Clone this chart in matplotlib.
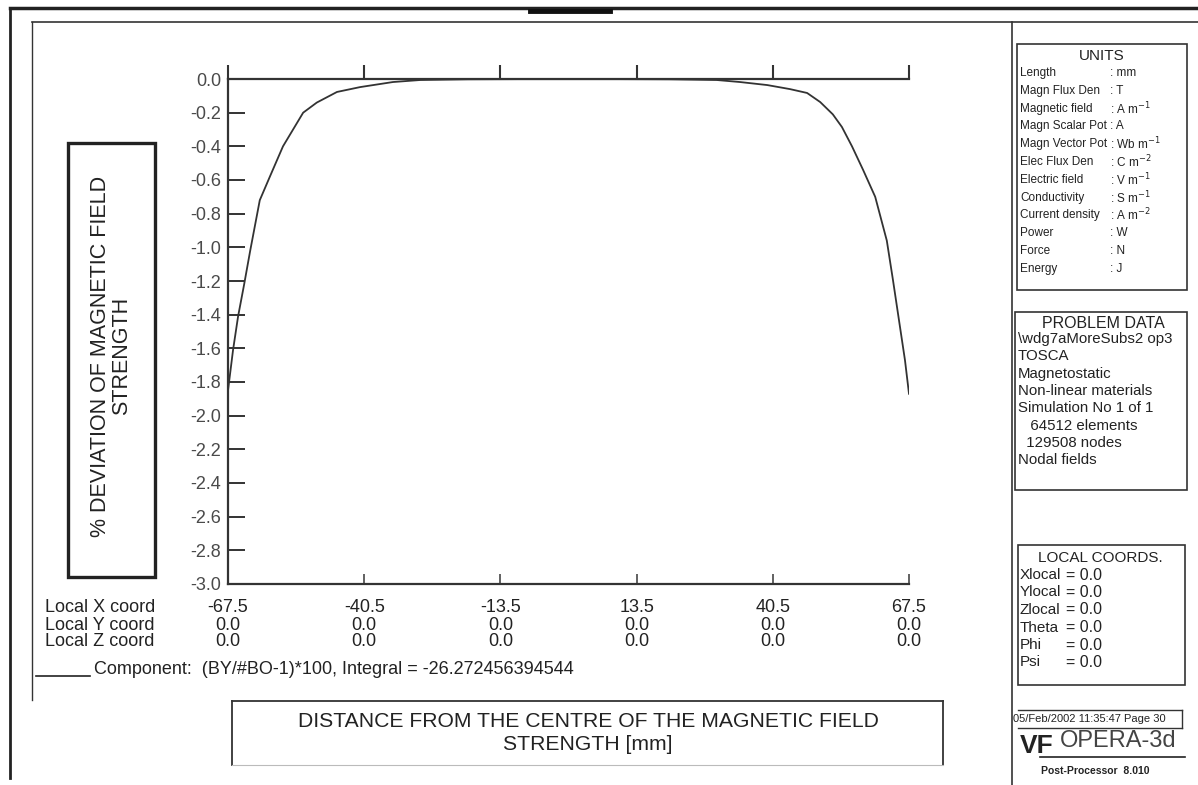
import numpy as np
import matplotlib
matplotlib.use("Agg")
import matplotlib.pyplot as plt
from matplotlib.transforms import blended_transform_factory

plt.rcParams['font.family'] = ['Liberation Sans', 'DejaVu Sans']

# ---------------- data ----------------
x_dist = [-67.5, -66.5, -65.5, -64.3, -63.1, -61.2, -59.2, -56.6, -52.6, -49.9,
          -45.9, -41.3, -34.8, -29.4, -20.0, -10.0, 0.0, 10.0, 20.0, 29.4,
          34.0, 39.4, 43.9, 47.3, 49.9, 52.4, 54.2, 56.2, 58.4, 60.8,
          63.1, 64.3, 65.7, 66.7, 67.5]
deviation = [-1.85, -1.61, -1.41, -1.22, -1.02, -0.72, -0.58, -0.40, -0.20, -0.14,
             -0.077, -0.048, -0.018, -0.006, -0.002, -0.001, -0.001, -0.001, -0.002, -0.006,
             -0.018, -0.036, -0.060, -0.083, -0.137, -0.21, -0.285, -0.40, -0.54, -0.70,
             -0.96, -1.19, -1.47, -1.67, -1.87]

x_coord_ticks = [-67.5, -40.5, -13.5, 13.5, 40.5, 67.5]
y_coord_vals = [0.0, 0.0, 0.0, 0.0, 0.0, 0.0]
z_coord_vals = [0.0, 0.0, 0.0, 0.0, 0.0, 0.0]
y_ticks = [0.0, -0.2, -0.4, -0.6, -0.8, -1.0, -1.2, -1.4, -1.6, -1.8, -2.0,
           -2.2, -2.4, -2.6, -2.8, -3.0]

units_names = ["Length", "Magn Flux Den", "Magnetic field", "Magn Scalar Pot",
               "Magn Vector Pot", "Elec Flux Den", "Electric field", "Conductivity",
               "Current density", "Power", "Force", "Energy"]
units_vals = [": mm", ": T", ": A m$^{-1}$", ": A", ": Wb m$^{-1}$", ": C m$^{-2}$",
              ": V m$^{-1}$", ": S m$^{-1}$", ": A m$^{-2}$", ": W", ": N", ": J"]
problem_lines = ["\\wdg7aMoreSubs2 op3", "TOSCA", "Magnetostatic", "Non-linear materials",
                 "Simulation No 1 of 1", "   64512 elements", "  129508 nodes", "Nodal fields"]
coord_names = ["Xlocal", "Ylocal", "Zlocal", "Theta", "Phi", "Psi"]
coord_vals = ["= 0.0", "= 0.0", "= 0.0", "= 0.0", "= 0.0", "= 0.0"]

W, H = 1198, 785
fig = plt.figure(figsize=(W / 100, H / 100), dpi=100)

# overlay in pixel coordinates for frames and panel text
ov = fig.add_axes([0, 0, 1, 1])
ov.set_xlim(0, W)
ov.set_ylim(H, 0)
ov.axis('off')

lc = '#333333'
tc = '#222222'
# outer frame
ov.plot([10, W], [8, 8], color='#222222', lw=2.5)
ov.plot([530, 610], [11, 11], color='#111111', lw=3.5)
ov.plot([10, 10], [8, 778], color='#222222', lw=2.0)
# inner frame
ov.plot([32, W], [22, 22], color=lc, lw=1.2)
ov.plot([32, 32], [22, 700], color=lc, lw=1.0)
ov.plot([1012, 1012], [22, 785], color=lc, lw=1.2)

# y label box
ov.add_patch(plt.Rectangle((68, 143), 87, 434, fill=False, ec='#222222', lw=2.4))
ov.text(111, 356, "% DEVIATION OF MAGNETIC FIELD\nSTRENGTH", rotation=90,
        ha='center', va='center', fontsize=15.5, color=tc, linespacing=1.05)

# x label box
ov.plot([232, 943], [701, 701], color=lc, lw=1.3)
ov.plot([232, 232], [701, 765], color=lc, lw=1.3)
ov.plot([943, 943], [701, 765], color=lc, lw=1.3)
ov.plot([232, 943], [765, 765], color='#bbbbbb', lw=0.8)
ov.text(588, 733, "DISTANCE FROM THE CENTRE OF THE MAGNETIC FIELD\nSTRENGTH [mm]",
        ha='center', va='center', fontsize=15.2, color=tc, linespacing=1.3)

# table below x axis
row_y = [608, 625, 642]
row_names = ["Local X coord", "Local Y coord", "Local Z coord"]
for yy, nm in zip(row_y, row_names):
    ov.text(45, yy, nm, ha='left', va='center', fontsize=13, color=tc)

# component legend line
ov.plot([36, 90], [676, 676], color='#222222', lw=1.2)
ov.text(94, 670, "Component:  (BY/#BO-1)*100, Integral = -26.272456394544",
        ha='left', va='center', fontsize=13, color=tc)

# right panel: UNITS
ov.add_patch(plt.Rectangle((1017, 44), 170, 246, fill=False, ec=lc, lw=1.2))
ov.text(1102, 56, "UNITS", ha='center', va='center', fontsize=11, color=tc)
for i, (n, v) in enumerate(zip(units_names, units_vals)):
    yy = 73 + i * 17.8
    ov.text(1020, yy, n, ha='left', va='center', fontsize=8.5, color=tc)
    ov.text(1110, yy, v, ha='left', va='center', fontsize=8.5, color=tc)

# PROBLEM DATA
ov.add_patch(plt.Rectangle((1015, 312), 172, 178, fill=False, ec=lc, lw=1.2))
ov.text(1103, 323, "PROBLEM DATA", ha='center', va='center', fontsize=11.5, color=tc)
for i, t in enumerate(problem_lines):
    ov.text(1018, 339 + i * 17.3, t, ha='left', va='center', fontsize=10.8, color=tc)

# LOCAL COORDS
ov.add_patch(plt.Rectangle((1018, 545), 167, 140, fill=False, ec=lc, lw=1.2))
ov.text(1100, 558, "LOCAL COORDS.", ha='center', va='center', fontsize=11, color=tc)
for i, (n, v) in enumerate(zip(coord_names, coord_vals)):
    yy = 575 + i * 17.5
    ov.text(1020, yy, n, ha='left', va='center', fontsize=11, color=tc)
    ov.text(1066, yy, v, ha='left', va='center', fontsize=11.5, color=tc)

# date box
ov.plot([1018, 1182], [710, 710], color=lc, lw=1.0)
ov.plot([1182, 1182], [710, 728], color=lc, lw=1.0)
ov.plot([1018, 1182], [728, 728], color=lc, lw=1.0)
ov.text(1013, 719, "05/Feb/2002 11:35:47 Page 30", ha='left', va='center',
        fontsize=8, color=tc)

# logo
ov.text(1020, 746, "VF", ha='left', va='center', fontsize=19, fontweight='bold',
        color='#222222')
ov.text(1060, 741, "OPERA-3d", ha='left', va='center', fontsize=17, color='#444444')
ov.plot([1040, 1185], [757, 757], color='#222222', lw=1.2)
ov.text(1095, 771, "Post-Processor  8.010", ha='center', va='center', fontsize=7.5,
        fontweight='bold', color='#222222')

# ---------------- main plot ----------------
ax = fig.add_axes([228 / W, 1 - 584 / H, 681 / W, 505 / H])
ax.set_facecolor('none')
ax.plot(x_dist, deviation, color='#333333', lw=1.3, zorder=3)
ax.set_xlim(-67.5, 67.5)
ax.set_ylim(-3.0, 0.0)
for s in ['left', 'bottom', 'top']:
    ax.spines[s].set_color('#333333')
    ax.spines[s].set_linewidth(1.6)
ax.spines['right'].set_visible(False)

ax.set_yticks(y_ticks)
ax.set_yticklabels([f"{v:.1f}" for v in y_ticks])
ax.tick_params(axis='y', direction='in', length=12, width=1.4, color='#333333',
               labelsize=13, labelcolor='#4a4a4a', pad=5, right=False)
ax.set_xticks(x_coord_ticks)
ax.set_xticklabels([])
ax.tick_params(axis='x', direction='in', length=7, width=1.3, color='#555555',
               bottom=True, top=False)

sec = ax.secondary_xaxis('top')
sec.set_xticks(x_coord_ticks)
sec.set_xticklabels([])
sec.tick_params(axis='x', direction='out', length=10, width=1.5, color='#333333')
sec.spines['top'].set_visible(False)

# coordinate table values aligned with x positions
tr = blended_transform_factory(ax.transData, ov.transData)
for xv, yv, zv in zip(x_coord_ticks, y_coord_vals, z_coord_vals):
    ax.text(xv, row_y[0], f"{xv:.1f}", transform=tr, ha='center', va='center',
            fontsize=13, color=tc)
    ax.text(xv, row_y[1], f"{yv:.1f}", transform=tr, ha='center', va='center',
            fontsize=13, color=tc)
    ax.text(xv, row_y[2], f"{zv:.1f}", transform=tr, ha='center', va='center',
            fontsize=13, color=tc)

fig.savefig("out.png", dpi=100, facecolor='white')
